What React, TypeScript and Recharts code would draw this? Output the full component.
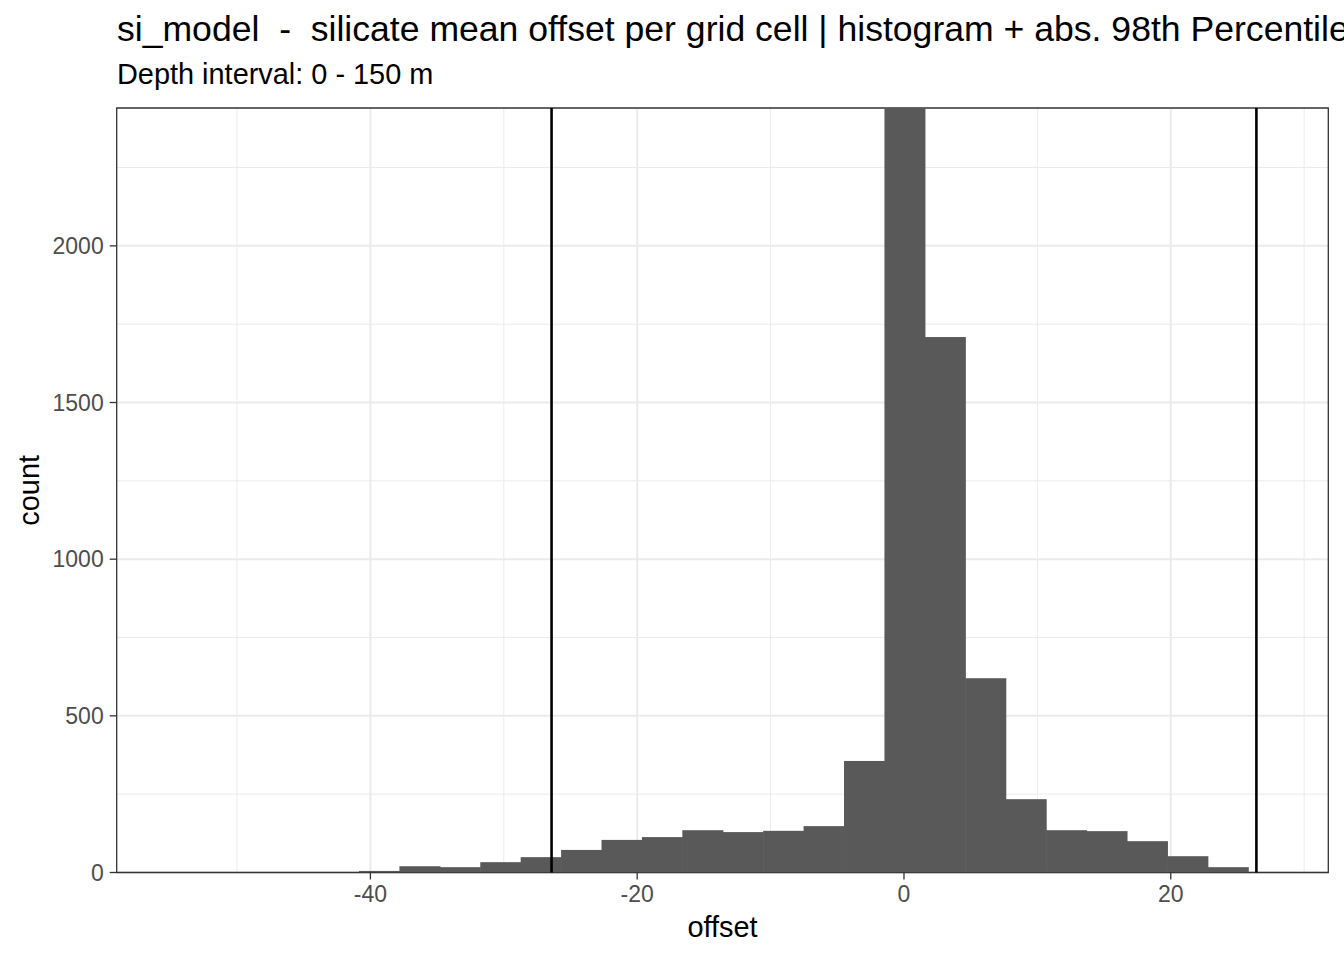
import { Bar, BarChart, CartesianGrid, ReferenceArea, ReferenceLine, XAxis, YAxis } from 'recharts'

// histogram bins (bin width ~3.03)
const binCenters = [
  -39.34, -36.31, -33.28, -30.25, -27.22, -24.19, -21.16, -18.13, -15.1, -12.07, -9.04,
  -6.01, -2.98, 0.05, 3.08, 6.11, 9.14, 12.17, 15.2, 18.23, 21.26, 24.29
]
// the bin at 0 runs past the top of the panel, so it is shown at the panel limit
const counts = [
  5, 20, 17, 33, 49, 72, 104, 113, 135, 129, 133, 148, 356, 2440, 1709, 620, 234, 135, 132,
  100, 52, 17
]
const percentileBounds = [-26.42, 26.42]

const xMajorTicks = [-40, -20, 0, 20]
const xMinorTicks = [-50, -30, -10, 10, 30]
const yMajorTicks = [0, 500, 1000, 1500, 2000]
const yMinorTicks = [250, 750, 1250, 1750, 2250]
const xDomain: [number, number] = [-59.02, 31.81]
const yDomain: [number, number] = [0, 2440]

const FONT = '"Liberation Sans", Arial, Helvetica, sans-serif'
const TICK = { fill: '#4D4D4D', fontSize: 23, fontFamily: FONT }
const TICK_LINE = { stroke: '#333333', strokeWidth: 1.3 }

const data = binCenters.map((center, i) => ({ center, count: counts[i] }))

// bars overlap the next one by a pixel so no seams show between bins
function HistBar(props: any) {
  const { x, y, width, height, fill } = props
  if (!height) return null
  return <rect x={x} y={y} width={width + 1} height={height} fill={fill} />
}

export default function App() {
  return (
    <div
      style={{
        position: 'absolute',
        left: 0,
        top: 0,
        width: 1344,
        height: 960,
        overflow: 'hidden',
        background: '#ffffff',
        fontFamily: FONT
      }}
    >
      <BarChart
        width={1344}
        height={960}
        data={data}
        margin={{ top: 108, right: 15.7, bottom: 47.5, left: 16.7 }}
        barCategoryGap={0}
        barGap={0}
      >
        <CartesianGrid
          stroke="#EBEBEB"
          strokeWidth={1}
          horizontalValues={yMinorTicks}
          verticalValues={xMinorTicks}
        />
        <CartesianGrid
          stroke="#EBEBEB"
          strokeWidth={2}
          horizontalValues={yMajorTicks}
          verticalValues={xMajorTicks}
        />
        <XAxis
          type="number"
          dataKey="center"
          domain={xDomain}
          allowDataOverflow
          ticks={xMajorTicks}
          height={40}
          axisLine={false}
          tickLine={TICK_LINE}
          tickSize={7}
          tickMargin={6.5}
          tick={TICK}
        />
        <YAxis
          type="number"
          domain={yDomain}
          allowDataOverflow
          ticks={yMajorTicks}
          width={100}
          axisLine={false}
          tickLine={TICK_LINE}
          tickSize={7}
          tickMargin={6}
          tick={TICK}
        />
        <Bar dataKey="count" fill="#595959" shape={HistBar} isAnimationActive={false} />
        {percentileBounds.map((x) => (
          <ReferenceLine key={x} x={x} stroke="#000000" strokeWidth={2.6} />
        ))}
        <ReferenceArea
          x1={xDomain[0]}
          x2={xDomain[1]}
          y1={yDomain[0]}
          y2={yDomain[1]}
          fill="none"
          stroke="#333333"
          strokeWidth={1.3}
        />
      </BarChart>
      <svg
        width={1344}
        height={960}
        style={{ position: 'absolute', left: 0, top: 0, pointerEvents: 'none' }}
      >
        <text
          x={117}
          y={41}
          fontSize={35.6}
          fontFamily={FONT}
          fill="#000000"
          style={{ whiteSpace: 'pre' }}
        >
          {'si_model  -  silicate mean offset per grid cell | histogram + abs. 98th Percentile'}
        </text>
        <text x={117} y={84} fontSize={28.9} fontFamily={FONT} fill="#000000">
          Depth interval: 0 - 150 m
        </text>
        <text x={722.5} y={937.3} fontSize={28.9} fontFamily={FONT} fill="#000000" textAnchor="middle">
          offset
        </text>
        <text
          x={0}
          y={0}
          fontSize={28.9}
          fontFamily={FONT}
          fill="#000000"
          textAnchor="middle"
          transform="translate(38.5 490.3) rotate(-90)"
        >
          count
        </text>
      </svg>
    </div>
  )
}
